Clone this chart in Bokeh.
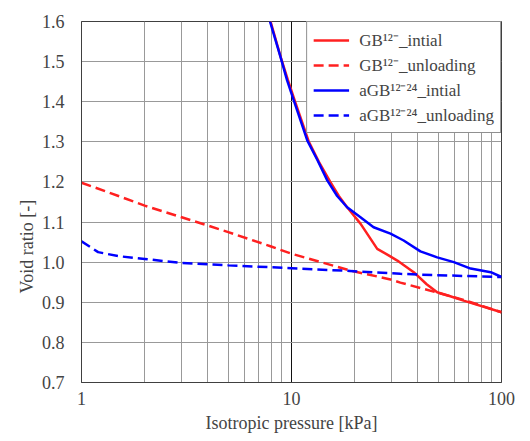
from bokeh.plotting import figure
from bokeh.models import FixedTicker, Legend, LegendItem, Title
from bokeh.embed import file_html
from bokeh.resources import INLINE

# ---- data ----
red_init_p = [7.95, 8.9, 9.6, 10.4, 12.1, 13.5, 15.3, 16.8, 18.4, 21.3, 25.6, 29.0, 31.9, 38.2, 44.0, 49.4, 57.0, 66.0, 100.0]
red_init_e = [1.600, 1.510, 1.455, 1.400, 1.300, 1.250, 1.200, 1.165, 1.137, 1.096, 1.033, 1.017, 1.004, 0.975, 0.945, 0.925, 0.915, 0.904, 0.875]

red_unl_p = [1.0, 1.5, 2.0, 3.0, 5.0, 8.0, 10.0, 19.1, 29.6, 33.0, 48.0, 66.0, 100.0]
red_unl_e = [1.198, 1.165, 1.141, 1.112, 1.075, 1.039, 1.021, 0.979, 0.957, 0.949, 0.926, 0.906, 0.875]

blue_init_p = [7.9, 8.87, 9.53, 10.3, 11.9, 13.3, 14.8, 16.5, 18.4, 21.3, 24.6, 29.6, 34.2, 41.1, 49.4, 59.3, 71.3, 88.9, 100.0]
blue_init_e = [1.600, 1.511, 1.453, 1.400, 1.303, 1.254, 1.204, 1.165, 1.137, 1.112, 1.087, 1.071, 1.054, 1.027, 1.012, 1.000, 0.984, 0.975, 0.963]

blue_unl_p = [1.0, 1.2, 1.5, 2.0, 3.0, 5.0, 10.0, 19.0, 33.0, 40.0, 100.0]
blue_unl_e = [1.052, 1.025, 1.015, 1.008, 0.998, 0.992, 0.985, 0.978, 0.971, 0.969, 0.963]

labels = ["GB\u00b9\u00b2\u207b_intial", "GB\u00b9\u00b2\u207b_unloading",
          "aGB\u00b9\u00b2\u207b\u00b2\u2074_intial", "aGB\u00b9\u00b2\u207b\u00b2\u2074_unloading"]

x_major = [1, 10, 100]
x_major_labels = ["1", "10", "100"]
x_minor = [2, 3, 4, 5, 6, 7, 8, 9, 20, 30, 40, 50, 60, 70, 80, 90]
y_ticks = [0.7, 0.8, 0.9, 1.0, 1.1, 1.2, 1.3, 1.4, 1.5, 1.6]
y_tick_labels = ["0.7", "0.8", "0.9", "1.0", "1.1", "1.2", "1.3", "1.4", "1.5", "1.6"]
x_title = "Isotropic pressure [kPa]"
y_title = "Void ratio [-]"

FONT = "Liberation Serif"

p = figure(width=528, height=438, x_axis_type="log", x_range=(1, 100), y_range=(0.7, 1.6),
           output_backend="svg", toolbar_location=None,
           min_border_left=81, min_border_right=27, min_border_top=21, min_border_bottom=56)

xa = p.xaxis[0]
ya = p.yaxis[0]
xa.ticker = FixedTicker(ticks=x_major, minor_ticks=x_minor)
ya.ticker = FixedTicker(ticks=y_ticks)
xa.major_label_overrides = dict(zip(x_major, x_major_labels))
ya.major_label_overrides = dict(zip(y_ticks, y_tick_labels))

for ax in (xa, ya):
    ax.major_label_text_font = FONT
    ax.major_label_text_font_size = "18px"
    ax.major_tick_line_color = None
    ax.minor_tick_line_color = None
    ax.axis_line_color = "#404040"

xa.major_label_standoff = 3
ya.major_label_standoff = 11
xa.axis_label = x_title
xa.axis_label_text_font = FONT
xa.axis_label_text_font_size = "18px"
xa.axis_label_text_font_style = "normal"
xa.axis_label_standoff = 5

p.add_layout(Title(text=y_title, align="left", offset=89, text_font=FONT, text_font_size="18px",
                   text_font_style="normal", standoff=4), "left")

p.xgrid.grid_line_color = "#111111"
p.xgrid.minor_grid_line_color = "#999999"
p.ygrid.grid_line_color = "#999999"
p.outline_line_color = "#404040"
p.outline_line_width = 1

r1 = p.line(red_init_p, red_init_e, line_color="#ff2020", line_width=2.5)
r2 = p.line(red_unl_p, red_unl_e, line_color="#ff2020", line_width=2.5, line_dash="10 5")
r3 = p.line(blue_init_p, blue_init_e, line_color="#0000ff", line_width=2.5)
r4 = p.line(blue_unl_p, blue_unl_e, line_color="#0000ff", line_width=2.5, line_dash="10 5")

legend = Legend(items=[LegendItem(label=labels[i], renderers=[r]) for i, r in enumerate([r1, r2, r3, r4])],
                location="top_right", margin=0, padding=6, spacing=2,
                glyph_width=36, glyph_height=20, label_height=20, label_standoff=10,
                label_text_font=FONT, label_text_font_size="17px",
                border_line_color="#222222", border_line_width=1.2,
                background_fill_color="white", background_fill_alpha=1.0)
p.add_layout(legend)

open("out.html", "w").write(file_html(p, INLINE))
